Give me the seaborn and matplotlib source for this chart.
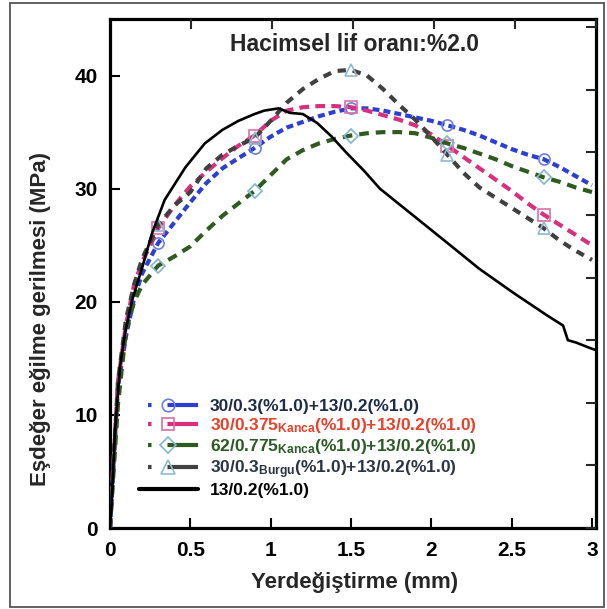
import numpy as np
import pandas as pd
import matplotlib
matplotlib.use("Agg")
import matplotlib.pyplot as plt
from matplotlib.lines import Line2D
from matplotlib.patches import Rectangle
import seaborn as sns

# ---------------- data ----------------
x_common = [0, 0.02, 0.05, 0.1, 0.15, 0.2, 0.3, 0.4, 0.5, 0.6, 0.7, 0.8, 0.9, 1.0,
            1.1, 1.2, 1.3, 1.4, 1.5, 1.6, 1.7, 1.8, 1.9, 2.0, 2.1, 2.2, 2.3, 2.4,
            2.5, 2.6, 2.7, 2.8, 2.9, 3.0]

y_blue = [0, 5, 12.5, 17, 20.3, 22.5, 25.2, 27, 28.8, 30.5, 31.8, 32.7, 33.6, 34.6,
          35.4, 35.9, 36.4, 36.8, 37.1, 37.1, 36.9, 36.6, 36.3, 36.0, 35.6, 35.2,
          34.7, 34.1, 33.5, 33.0, 32.6, 31.9, 31.1, 30.3]
y_magenta = [0, 5.5, 13, 18, 21.5, 23.5, 26.5, 28.5, 30.2, 31.5, 32.7, 33.8, 34.7,
             36.0, 36.9, 37.2, 37.3, 37.3, 37.2, 36.9, 36.5, 36.1, 35.6, 34.8, 33.8,
             32.8, 31.8, 30.8, 29.8, 28.7, 27.7, 26.8, 25.9, 25.0]
y_green = [0, 4.5, 11, 17.5, 20, 21.5, 23.2, 24, 24.9, 26.3, 27.6, 28.7, 29.8, 31.2,
           32.6, 33.4, 34.0, 34.4, 34.7, 34.9, 35.0, 35.0, 34.9, 34.5, 34.0, 33.6,
           33.1, 32.6, 32.0, 31.5, 31.0, 30.6, 30.1, 29.7]
y_gray = [0, 5.5, 13, 18.5, 21.5, 23.8, 26.8, 28.5, 29.7, 31.8, 33.0, 33.8, 34.5,
          36.0, 37.6, 38.8, 39.7, 40.4, 40.5, 40.0, 38.8, 37.4, 36.1, 34.6, 33.0,
          31.4, 30.1, 29.2, 28.3, 27.4, 26.5, 25.4, 24.5, 23.7]

x_black = [0, 0.012, 0.03, 0.062, 0.093, 0.137, 0.2, 0.26, 0.34, 0.47, 0.59, 0.7,
           0.8, 0.9, 0.96, 1.05, 1.12, 1.2, 1.29, 1.38, 1.47, 1.58, 1.68, 1.89, 2.1,
           2.3, 2.51, 2.72, 2.82, 2.85, 2.9, 2.99, 3.03]
y_black = [0, 2.5, 8.4, 14.2, 17.2, 20.1, 23, 26, 29, 31.9, 34, 35.2, 36, 36.6,
           36.9, 37.1, 36.7, 36.6, 35.8, 34.6, 33.2, 31.6, 30, 27.6, 25.2, 22.9,
           20.8, 18.8, 17.9, 16.6, 16.4, 15.9, 15.7]

marker_x = [0.3, 0.9, 1.5, 2.1, 2.7]

labels = [
    r"30/0.3(%1.0)+13/0.2(%1.0)",
    r"30/0.375$_{\mathrm{Kanca}}$(%1.0)+13/0.2(%1.0)",
    r"62/0.775$_{\mathrm{Kanca}}$(%1.0)+13/0.2(%1.0)",
    r"30/0.3$_{\mathrm{Burgu}}$(%1.0)+13/0.2(%1.0)",
    r"13/0.2(%1.0)",
]
title_text = "Hacimsel lif oranı:%2.0"
xlabel_text = "Yerdeğiştirme (mm)"
ylabel_text = "Eşdeğer eğilme gerilmesi (MPa)"
xticks = [0, 0.5, 1, 1.5, 2, 2.5, 3]
xtick_labels = ["0", "0.5", "1", "1.5", "2", "2.5", "3"]
yticks = [0, 10, 20, 30, 40]

# ---------------- style ----------------
sns.set_theme(style="ticks")
plt.rcParams["font.family"] = ["Liberation Sans", "DejaVu Sans"]
plt.rcParams["font.weight"] = "bold"
plt.rcParams["mathtext.fontset"] = "custom"
plt.rcParams["mathtext.rm"] = "Liberation Sans:bold"
plt.rcParams["mathtext.bf"] = "Liberation Sans:bold"
plt.rcParams["mathtext.it"] = "Liberation Sans:bold"
plt.rcParams["lines.scale_dashes"] = False

fig = plt.figure(figsize=(6.07, 6.09), dpi=100)
fig.patch.set_facecolor("white")
W, H = 607, 609
ax = fig.add_axes([110 / W, (H - 528) / H, (596 - 110) / W, (528 - 19) / H])

series = [
    (y_blue, "#2b40d0", (0, (5, 3)), "o", "#6a80e0", 8),
    (y_magenta, "#d8307f", (0, (7, 4.5)), "s", "#d870a8", 8),
    (y_green, "#2f5a20", (0, (7, 5)), "D", "#7fb8d0", 7),
    (y_gray, "#404040", (0, (6, 5)), "^", "#90b8d0", 9),
]
idx = [i for i, v in enumerate(x_common) if any(abs(v - m) < 1e-9 for m in marker_x)]

for yv, col, ls, mk, mec, ms in series:
    df = pd.DataFrame({"x": x_common, "y": yv})
    sns.lineplot(data=df, x="x", y="y", ax=ax, color=col, linewidth=3.0,
                 linestyle=ls, marker=mk, markevery=idx, markersize=ms,
                 markerfacecolor="none", markeredgecolor=mec,
                 markeredgewidth=1.2, estimator=None, zorder=3)

dfb = pd.DataFrame({"x": x_black, "y": y_black})
sns.lineplot(data=dfb, x="x", y="y", ax=ax, color="black", linewidth=1.9,
             estimator=None, zorder=4)

ax.set_xlim(0, 3.025)
ax.set_ylim(0, 45)
ax.set_xticks(xticks)
ax.set_xticklabels(xtick_labels)
ax.set_yticks(yticks)
ax.tick_params(axis="both", direction="in", length=7, width=1.5, colors="black",
               labelsize=15, pad=9)
for lab in ax.get_xticklabels() + ax.get_yticklabels():
    lab.set_fontweight("bold")
for sp in ax.spines.values():
    sp.set_linewidth(2.3)
    sp.set_color("black")
    sp.set_visible(True)

ax.set_xlabel(xlabel_text, fontsize=16, fontweight="bold")
ax.set_ylabel(ylabel_text, fontsize=16, fontweight="bold")
ax.xaxis.set_label_coords(0.504, -0.086)
ax.yaxis.set_label_coords(-0.121, 0.41)

ax.text(0.504, 0.95, title_text, transform=ax.transAxes, ha="center", va="center",
        fontsize=16.5, fontweight="bold")

# secondary tick marks (right and top)
ax2 = ax.twinx()
ax2.set_ylim(0, 509 / 62.6)
ax2.set_yticks(range(0, 9))
ax2.tick_params(axis="y", direction="in", length=7, width=1.5, labelright=False)
ax3 = ax.twiny()
ax3.set_xlim(0, 3.0)
ax3.set_xticks([0.5, 1, 1.5, 2, 2.5, 3])
ax3.tick_params(axis="x", direction="in", length=7, width=1.5, labeltop=False)
for a in (ax2, ax3):
    for sp in a.spines.values():
        sp.set_visible(False)

# legend
handles = []
for yv, col, ls, mk, mec, ms in series:
    handles.append(Line2D([], [], color=col, linewidth=3,
                          linestyle=(0, (0.01, 6.5, 2.5, 11.5, 30, 0.01)),
                          marker=mk, markersize=ms + 1, markerfacecolor="none",
                          markeredgecolor=mec, markeredgewidth=1.2))
handles.append(Line2D([], [], color="black", linewidth=3))
leg = ax.legend(handles, labels, loc="lower left", bbox_to_anchor=(0.045, 0.045),
                frameon=False, fontsize=12.5, handlelength=3.4, handletextpad=0.7,
                labelspacing=0.12, borderaxespad=0, numpoints=1)
text_colors = ["#1f2c48", "#e8402a", "#2a5a25", "#2c3444", "black"]
for t, c in zip(leg.get_texts(), text_colors):
    t.set_color(c)
    t.set_fontweight("bold")

# outer frame
fig.patches.append(Rectangle((10 / W, 2 / H), (604 - 10) / W, (606 - 2) / H,
                             transform=fig.transFigure, fill=False,
                             edgecolor="#555555", linewidth=1.3))

fig.savefig("out.png", dpi=100, facecolor="white")
